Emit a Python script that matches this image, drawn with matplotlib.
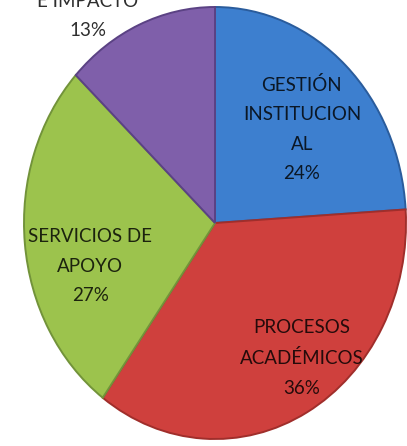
import matplotlib.pyplot as plt

labels = ["GESTIÓN\nINSTITUCION\nAL", "PROCESOS\nACADÉMICOS", "SERVICIOS DE\nAPOYO", "E IMPACTO"]
values = [24, 36, 27, 13]
colors = ["#3D7FCF", "#CF403D", "#9CC34D", "#7F5FAA"]
edges = ["#2A5C9C", "#A02E2B", "#72933A", "#5B4284"]

# where each label block sits, in ellipse units (center = 0,0)
label_pos = [(0.455, 0.435), (0.455, -0.625), (-0.654, -0.20), (-0.665, 0.958)]

W, H = 407, 446
cx, cy = 215, 223   # pie center in pixels (from top-left)
rx, ry = 191, 216   # pie half-width / half-height in pixels

fig = plt.figure(figsize=(W / 100, H / 100), dpi=100)
ax = fig.add_axes([0, 0, 1, 1])

wedges, _ = ax.pie(values, colors=colors, startangle=90, counterclock=False,
                   radius=1, wedgeprops=dict(linewidth=1.4))
for w, ec in zip(wedges, edges):
    w.set_edgecolor(ec)

ax.set_aspect("auto")
ax.set_xlim(-cx / rx, (W - cx) / rx)
ax.set_ylim(-(H - cy) / ry, cy / ry)
ax.axis("off")

for lab, v, (x, y) in zip(labels, values, label_pos):
    ax.text(x, y, f"{lab}\n{v}%", ha="center", va="center", fontsize=13.5,
            family="Lato", color="black", alpha=0.82, linespacing=1.9)

fig.savefig("out.png", dpi=100)
